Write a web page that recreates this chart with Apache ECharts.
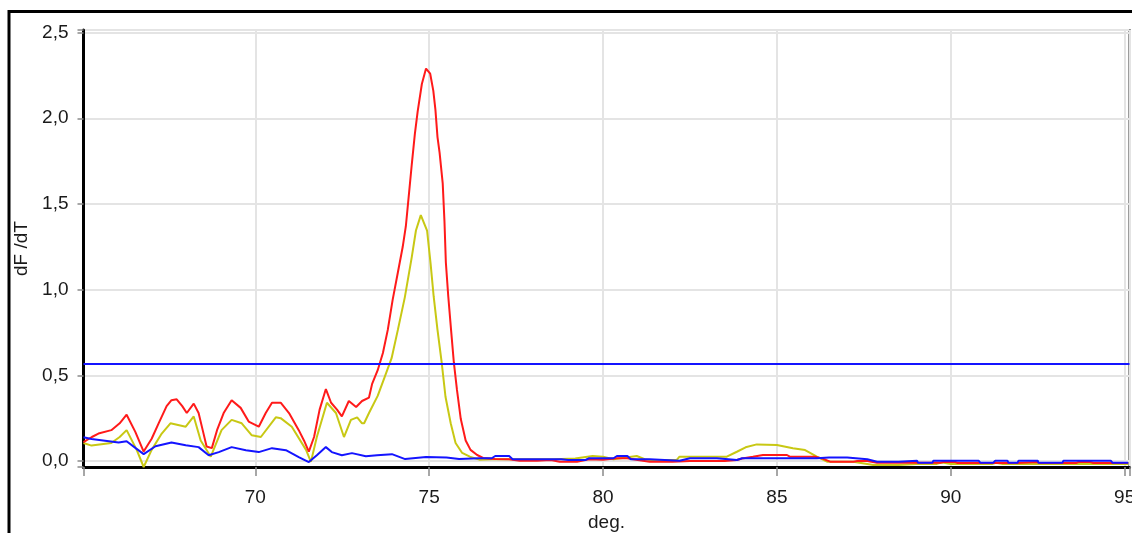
<!DOCTYPE html>
<html><head><meta charset="utf-8">
<script src="https://cdn.jsdelivr.net/npm/echarts@6/dist/echarts.min.js"></script>
<style>html,body{margin:0;padding:0;background:#fff}#c{width:1132px;height:533px}</style>
</head><body><div id="c"></div>
<script>
// Axis settings (tick steps) and labels
const xName = 'deg.';
const yName = 'dF /dT';
const xRange = [65.06, 95.14];
const yRange = [-0.035, 2.515];
const xTickStep = 5;
const yTickStep = 0.5;
const thresholdValue = 0.572;

// Red series [deg, dF/dT]
const redData = [
[65.06,0.11],[65.3,0.14],[65.49,0.16],[65.86,0.18],[66.1,0.22],[66.30,0.27],[66.55,0.17],[66.79,0.055],[67.02,0.13],[67.22,0.22],
[67.45,0.32],[67.59,0.355],[67.74,0.36],[67.9,0.32],[68.03,0.28],[68.23,0.335],[68.37,0.28],[68.5,0.17],[68.60,0.085],[68.75,0.075],
[68.9,0.18],[69.09,0.28],[69.32,0.355],[69.58,0.31],[69.81,0.23],[70.10,0.20],[70.3,0.28],[70.48,0.34],[70.73,0.34],[70.97,0.28],
[71.25,0.18],[71.4,0.12],[71.54,0.055],[71.69,0.14],[71.85,0.30],[72.03,0.42],[72.18,0.34],[72.35,0.30],[72.49,0.26],[72.69,0.35],
[72.90,0.315],[73.07,0.35],[73.27,0.37],[73.36,0.45],[73.52,0.53],[73.67,0.63],[73.81,0.765],[73.95,0.94],[74.10,1.10],[74.24,1.25],
[74.33,1.37],[74.42,1.56],[74.50,1.73],[74.59,1.91],[74.67,2.04],[74.79,2.20],[74.91,2.29],[75.03,2.26],[75.12,2.16],[75.18,2.05],
[75.24,1.89],[75.30,1.80],[75.39,1.62],[75.44,1.40],[75.48,1.16],[75.55,0.96],[75.63,0.765],[75.71,0.575],[75.80,0.415],[75.91,0.245],
[76.05,0.12],[76.19,0.065],[76.38,0.035],[76.55,0.018],[76.9,0.012],[77.3,0.01],[77.6,0.002],[78.1,0.002],[78.5,0.006],[78.75,-0.004],
[79.25,-0.004],[79.6,0.01],[80.0,0.008],[80.39,0.016],[80.7,0.016],[81.0,0.006],[81.34,-0.004],[82.0,-0.004],[82.5,0.0],[83.5,0.0],
[83.85,0.006],[84.0,0.015],[84.31,0.025],[84.6,0.035],[85.29,0.035],[85.37,0.025],[86.1,0.025],[86.3,0.015],[86.53,-0.004],[87.2,-0.004],
[87.31,0.0],[87.6,0.0],[87.88,-0.01],[89.7,-0.01],[89.78,-0.006],[90.13,-0.006],[90.2,-0.012],[91.9,-0.012],[91.94,-0.006],[92.49,-0.006],
[92.55,-0.012],[93.6,-0.012],[93.67,-0.006],[94.02,-0.006],[94.1,-0.012],[95.1,-0.012]
];

// Yellow series [deg, dF/dT]
const yellowData = [
[65.06,0.105],[65.29,0.09],[65.86,0.105],[66.1,0.14],[66.30,0.18],[66.59,0.065],[66.79,-0.035],[67.02,0.065],[67.31,0.16],[67.56,0.22],
[68.00,0.20],[68.23,0.26],[68.43,0.12],[68.72,0.025],[69.03,0.18],[69.32,0.24],[69.61,0.22],[69.90,0.15],[70.16,0.14],[70.59,0.255],
[70.73,0.25],[71.05,0.20],[71.46,0.065],[71.60,-0.005],[71.77,0.14],[72.06,0.34],[72.32,0.28],[72.55,0.14],[72.75,0.24],[72.93,0.255],
[73.07,0.22],[73.13,0.22],[73.27,0.28],[73.52,0.38],[73.72,0.49],[73.92,0.60],[74.10,0.765],[74.30,0.955],[74.50,1.19],[74.62,1.345],
[74.76,1.435],[74.94,1.345],[75.04,1.155],[75.13,0.96],[75.24,0.765],[75.36,0.575],[75.47,0.375],[75.62,0.22],[75.76,0.105],[75.95,0.047],
[76.17,0.025],[76.44,0.008],[76.8,0.01],[77.5,0.01],[78.2,0.01],[78.6,0.01],[79.2,0.015],[79.7,0.029],[80.0,0.025],[80.3,0.01],
[80.97,0.029],[81.2,0.01],[81.34,0.006],[82.12,0.006],[82.2,0.025],[83.56,0.025],[83.85,0.054],[84.1,0.08],[84.42,0.097],[85.0,0.093],
[85.46,0.074],[85.81,0.064],[86.15,0.025],[86.44,-0.004],[87.2,-0.004],[87.77,-0.023],[88.5,-0.023],[89.0,-0.017],[89.6,-0.017],[89.7,-0.01],
[89.8,-0.01],[90.0,-0.017],[91.2,-0.017],[91.3,-0.01],[91.5,-0.017],[95.1,-0.017]
];

// Blue series [deg, dF/dT]
const blueData = [
[65.06,0.138],[65.29,0.128],[66.07,0.108],[66.30,0.115],[66.56,0.075],[66.79,0.04],[67.13,0.086],[67.59,0.108],[68.00,0.092],[68.37,0.081],
[68.66,0.034],[68.95,0.052],[69.32,0.081],[69.73,0.063],[70.10,0.052],[70.48,0.075],[70.88,0.063],[71.25,0.023],[71.54,-0.006],[71.77,0.034],
[72.03,0.081],[72.20,0.052],[72.49,0.034],[72.78,0.046],[73.18,0.028],[73.5,0.034],[73.93,0.04],[74.31,0.011],[74.91,0.023],[75.5,0.02],
[75.86,0.012],[76.44,0.016],[76.8,0.016],[76.9,0.029],[77.3,0.029],[77.4,0.01],[78.8,0.01],[79.0,0.006],[79.5,0.006],[79.6,0.016],
[80.3,0.016],[80.4,0.029],[80.7,0.029],[80.8,0.01],[81.34,0.01],[82.2,0.002],[82.5,0.016],[83.27,0.016],[83.85,0.006],[84.0,0.016],
[84.6,0.016],[86.15,0.016],[86.5,0.021],[87.02,0.021],[87.6,0.01],[87.88,-0.004],[88.5,-0.004],[88.55,0.002],[89.03,0.002],[89.06,-0.01],
[89.47,-0.01],[89.5,0.002],[90.8,0.002],[90.85,-0.01],[91.22,-0.01],[91.28,0.002],[91.63,0.002],[91.66,-0.01],[91.92,-0.01],[91.95,0.002],
[92.5,0.002],[92.52,-0.01],[93.21,-0.01],[93.24,0.002],[94.6,0.002],[94.65,-0.01],[95.1,-0.01]
];

const FONT = '"Liberation Sans", Arial, sans-serif';
const isMult = (v, s) => Math.abs(v / s - Math.round(v / s)) < 1e-6;
const chart = echarts.init(document.getElementById('c'), null, {renderer: 'canvas'});

const lineSeries = (name, data, color) => ({
  name, type: 'line', data, showSymbol: false, symbol: 'none',
  lineStyle: {color, width: 2}, itemStyle: {color}, animation: false
});

chart.setOption({
  animation: false,
  backgroundColor: '#fff',
  graphic: [{
    type: 'rect', silent: true, z: 100,
    shape: {x: 9, y: 11.5, width: 1400, height: 800},
    style: {fill: 'none', stroke: '#000', lineWidth: 3}
  }],
  grid: {left: 83.5, right: 2.5, top: 30, bottom: 66, show: true,
         containLabel: false, outerBoundsMode: 'none',
         borderColor: '#3a3a3a', borderWidth: 2, backgroundColor: 'transparent'},
  xAxis: {
    type: 'value', min: xRange[0], max: xRange[1],
    minInterval: xTickStep, maxInterval: xTickStep,
    name: xName, nameLocation: 'middle', nameGap: 46,
    nameTextStyle: {fontFamily: FONT, fontSize: 19, color: '#1a1a1a'},
    axisLine: {onZero: false, lineStyle: {color: '#000', width: 3}},
    axisTick: {show: true, length: 9, lineStyle: {color: '#8a8a8a', width: 1.5}},
    axisLabel: {margin: 21, fontFamily: FONT, fontSize: 19, color: '#1a1a1a',
      formatter: v => (isMult(v, xTickStep) && v > xRange[0] + 1) ? String(Math.round(v)) : ''},
    splitLine: {show: true, lineStyle: {color: '#e4e4e4', width: 2}}
  },
  yAxis: {
    type: 'value', min: yRange[0], max: yRange[1],
    minInterval: yTickStep, maxInterval: yTickStep,
    name: yName, nameLocation: 'middle', nameGap: 50,
    nameTextStyle: {fontFamily: FONT, fontSize: 19, color: '#1a1a1a'},
    axisLine: {show: true, onZero: false, lineStyle: {color: '#000', width: 3}},
    axisTick: {show: true, length: 6, lineStyle: {color: '#8a8a8a', width: 1.5}},
    axisLabel: {margin: 15, fontFamily: FONT, fontSize: 19, color: '#1a1a1a',
      formatter: v => isMult(v, yTickStep) ? Math.abs(v).toFixed(1).replace('.', ',') : ''},
    splitLine: {show: true, lineStyle: {color: '#e4e4e4', width: 2}}
  },
  series: [
    lineSeries('yellow', yellowData, '#c8c814'),
    lineSeries('red', redData, '#ff1a1a'),
    Object.assign(lineSeries('blue', blueData, '#1414ff'), {
      markLine: {silent: true, symbol: 'none', label: {show: false},
        lineStyle: {color: '#1414ff', width: 2, type: 'solid'},
        data: [{yAxis: thresholdValue}]}
    })
  ]
});
</script></body></html>
